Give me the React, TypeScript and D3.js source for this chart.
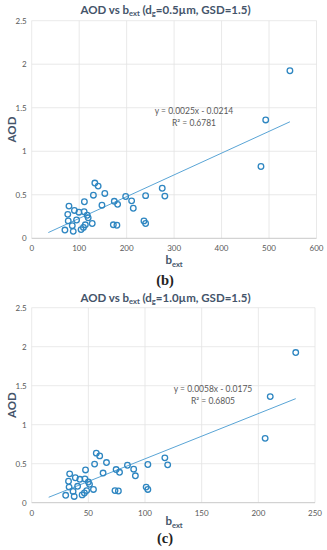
import * as d3 from 'd3';
import { useEffect, useRef } from 'react';

// AOD values (same for both panels)
const aod = [0.095, 0.37, 0.275, 0.2, 0.145, 0.08, 0.32, 0.3, 0.305, 0.21, 0.1, 0.42, 0.265, 0.235, 0.155, 0.125, 0.17, 0.495, 0.635, 0.6, 0.38, 0.515, 0.425, 0.155, 0.15, 0.39, 0.48, 0.43, 0.345, 0.2, 0.17, 0.49, 0.575, 0.485, 0.825, 1.36, 1.925];

// b_ext for panel (b), dg = 0.5um
const bextB = [70, 78.5, 76, 77, 85.5, 87.5, 90, 99.5, 110.5, 94.5, 104, 111, 117, 119, 113, 109, 127.5, 130, 133, 140, 148, 154, 174, 172, 179.5, 181, 198, 210.5, 214, 236.5, 240, 240, 275, 280.5, 483, 493, 544];

// b_ext for panel (c), dg = 1.0um
const bextC = [30, 33.5, 32.5, 33, 36.5, 37.5, 38.5, 42.5, 47, 40.5, 44.5, 47.5, 50, 51, 48.5, 46.5, 54.5, 55.5, 57, 60, 63, 66, 74.5, 73.5, 76.5, 77.5, 84.5, 90, 91.5, 101, 102.5, 102.5, 117.5, 120, 206, 210.5, 233];

const yTicks = [0, 0.5, 1, 1.5, 2, 2.5];
const xTicksB = [0, 100, 200, 300, 400, 500, 600];
const xTicksC = [0, 50, 100, 150, 200, 250];

// linear trendlines
const fitB = [0.0025, -0.0214];
const fitC = [0.0058, -0.0175];
const fitRangeB = [35, 544];
const fitRangeC = [15, 233];

const FONT = 'Lato, "Open Sans", sans-serif';
const TEXT = '#595959';
const TITLE = '#44546a';
const BLUE = '#2e86c1';

function drawPanel(svg, o) {
  const x = d3.scaleLinear().domain([o.xTicks[0], o.xTicks[o.xTicks.length - 1]]).range([o.left, o.right]);
  const y = d3.scaleLinear().domain([0, 2.5]).range([o.bottom, o.top]);
  const g = svg.append('g');

  // grid
  g.selectAll('.vg').data(o.xTicks).enter().append('line')
    .attr('x1', d => x(d)).attr('x2', d => x(d))
    .attr('y1', o.top).attr('y2', o.bottom)
    .attr('stroke', '#e3e3e3').attr('stroke-width', 0.8);
  g.selectAll('.hg').data(yTicks.slice(1)).enter().append('line')
    .attr('x1', o.left).attr('x2', o.right)
    .attr('y1', d => y(d)).attr('y2', d => y(d))
    .attr('stroke', '#e3e3e3').attr('stroke-width', 0.8);
  g.append('line').attr('x1', o.left).attr('x2', o.right)
    .attr('y1', o.bottom).attr('y2', o.bottom)
    .attr('stroke', '#c8c8c8').attr('stroke-width', 1);

  // tick labels
  g.selectAll('.yl').data(yTicks).enter().append('text')
    .attr('x', o.left - 5).attr('y', d => y(d) + 3)
    .attr('text-anchor', 'end').attr('font-size', 8).attr('fill', TEXT)
    .attr('font-family', FONT).text(d => d3.format('')(d));
  g.selectAll('.xl').data(o.xTicks).enter().append('text')
    .attr('x', d => x(d)).attr('y', o.bottom + 13)
    .attr('text-anchor', 'middle').attr('font-size', 8).attr('fill', TEXT)
    .attr('font-family', FONT).text(d => d);

  // trendline
  const [m, c] = o.fit;
  g.append('path')
    .attr('d', d3.line()(o.fitRange.map(v => [x(v), y(m * v + c)])))
    .attr('stroke', '#5aa5d6').attr('stroke-width', 1).attr('fill', 'none');

  // points
  g.selectAll('.pt').data(o.xs).enter().append('circle')
    .attr('cx', d => x(d)).attr('cy', (d, i) => y(aod[i]))
    .attr('r', 2.8).attr('fill', 'none')
    .attr('stroke', BLUE).attr('stroke-width', 1.3);

  // equation
  const eq = g.append('text').attr('font-family', FONT).attr('font-size', 8.5)
    .attr('fill', TEXT).attr('text-anchor', 'middle');
  eq.append('tspan').attr('x', o.eqX).attr('y', o.eqY)
    .text(`y = ${m}x - ${Math.abs(c)}`);
  eq.append('tspan').attr('x', o.eqX).attr('y', o.eqY + 12).text(o.r2);

  // title
  const t = g.append('text').attr('x', 165.5).attr('y', o.titleY)
    .attr('text-anchor', 'middle').attr('font-family', FONT).attr('font-weight', 'bold')
    .attr('font-size', 11.5).attr('fill', TITLE);
  t.append('tspan').text('AOD vs b');
  t.append('tspan').attr('font-size', 7.5).attr('dy', 2).text('ext');
  t.append('tspan').attr('dy', -2).text(' (d');
  t.append('tspan').attr('font-size', 7.5).attr('dy', 2).text('g');
  t.append('tspan').attr('dy', -2).text(o.titleRest);

  // axis titles
  const xl = g.append('text').attr('x', 174).attr('y', o.bottom + o.xLabelDy)
    .attr('text-anchor', 'middle').attr('font-family', FONT).attr('font-weight', 'bold')
    .attr('font-size', 11.5).attr('fill', TITLE);
  xl.append('tspan').text('b');
  xl.append('tspan').attr('font-size', 7.5).attr('dy', 2.5).text('ext');

  g.append('text').attr('transform', `translate(16,${(o.top + o.bottom) / 2}) rotate(-90)`)
    .attr('text-anchor', 'middle').attr('font-family', FONT).attr('font-weight', 'bold')
    .attr('font-size', 11.5).attr('fill', TITLE).text('AOD');

  // panel letter
  g.append('text').attr('x', 165).attr('y', o.letterY).attr('text-anchor', 'middle')
    .attr('font-family', '"Liberation Serif", serif').attr('font-size', 14.5)
    .attr('font-weight', 'bold').attr('fill', '#222').text(o.letter);
}

export default function App() {
  const ref = useRef(null);

  useEffect(() => {
    const svg = d3.select(ref.current);
    svg.selectAll('*').remove();
    svg.append('rect').attr('width', 327).attr('height', 550).attr('fill', '#fff');

    drawPanel(svg, {
      xs: bextB, xTicks: xTicksB, fit: fitB, fitRange: fitRangeB,
      left: 31.7, right: 316.5, top: 20.7, bottom: 238.3, xLabelDy: 26,
      eqX: 194, eqY: 114, r2: 'R² = 0.6781',
      titleY: 14, titleRest: '=0.5µm, GSD=1.5)', letter: '(b)', letterY: 285,
    });
    drawPanel(svg, {
      xs: bextC, xTicks: xTicksC, fit: fitC, fitRange: fitRangeC,
      left: 31.7, right: 315, top: 307.7, bottom: 502.7, xLabelDy: 22.5,
      eqX: 213, eqY: 392, r2: 'R² = 0.6805',
      titleY: 302, titleRest: '=1.0µm, GSD=1.5)', letter: '(c)', letterY: 543,
    });
  }, []);

  return (
    <svg ref={ref} width={327} height={550}
      style={{ position: 'absolute', left: 0, top: 0 }} />
  );
}
